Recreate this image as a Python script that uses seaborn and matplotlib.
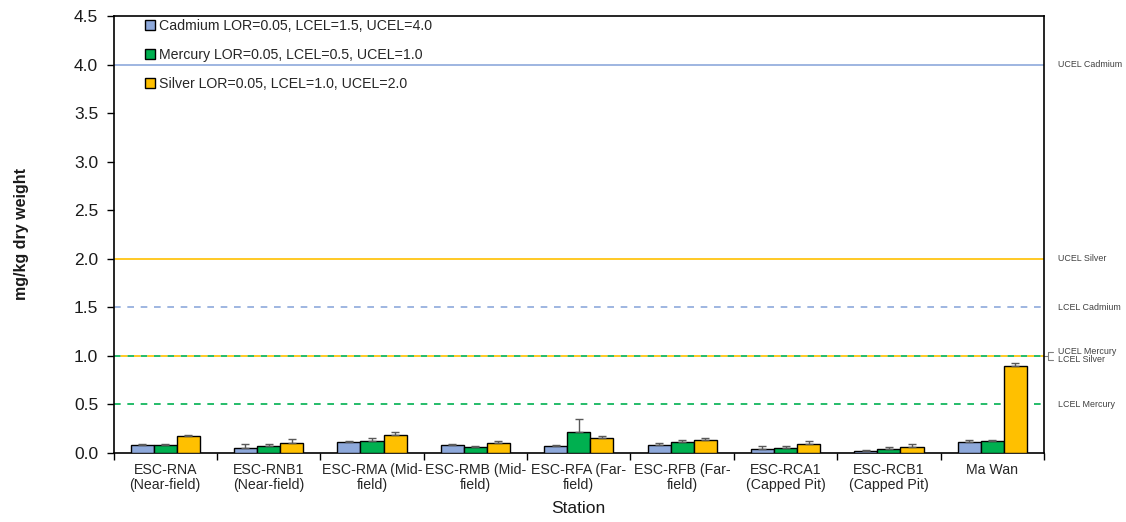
import numpy as np
import pandas as pd
import matplotlib
matplotlib.use("Agg")
import matplotlib.pyplot as plt
import seaborn as sns

stations = ["ESC-RNA\n(Near-field)", "ESC-RNB1\n(Near-field)", "ESC-RMA (Mid-\nfield)",
            "ESC-RMB (Mid-\nfield)", "ESC-RFA (Far-\nfield)", "ESC-RFB (Far-\nfield)",
            "ESC-RCA1\n(Capped Pit)", "ESC-RCB1\n(Capped Pit)", "Ma Wan"]
metals = ["Cadmium", "Mercury", "Silver"]
legend_labels = ["Cadmium LOR=0.05, LCEL=1.5, UCEL=4.0",
                 "Mercury LOR=0.05, LCEL=0.5, UCEL=1.0",
                 "Silver LOR=0.05, LCEL=1.0, UCEL=2.0"]

cadmium = [0.082, 0.050, 0.117, 0.080, 0.068, 0.078, 0.043, 0.024, 0.113]
mercury = [0.080, 0.075, 0.125, 0.065, 0.220, 0.109, 0.052, 0.040, 0.120]
silver = [0.170, 0.106, 0.190, 0.106, 0.155, 0.137, 0.093, 0.060, 0.895]
cadmium_err = [0.010, 0.040, 0.005, 0.010, 0.012, 0.020, 0.027, 0.010, 0.017]
mercury_err = [0.008, 0.020, 0.025, 0.005, 0.130, 0.020, 0.017, 0.020, 0.010]
silver_err = [0.020, 0.035, 0.030, 0.015, 0.015, 0.020, 0.027, 0.030, 0.030]

# Reference levels
ref_names = ["UCEL Cadmium", "UCEL Silver", "LCEL Cadmium", "UCEL Mercury", "LCEL Silver", "LCEL Mercury"]
ref_values = [4.0, 2.0, 1.5, 1.0, 1.0, 0.5]

colors = {"Cadmium": "#8EA9DB", "Mercury": "#00B050", "Silver": "#FFC000"}

df = pd.DataFrame({
    "Station": np.repeat(stations, 3),
    "Metal": metals * len(stations),
    "Value": np.ravel(np.column_stack([cadmium, mercury, silver])),
    "Err": np.ravel(np.column_stack([cadmium_err, mercury_err, silver_err])),
})

sns.set_style("ticks")
plt.rcParams["font.family"] = ["Liberation Sans", "DejaVu Sans"]

fig, ax = plt.subplots(figsize=(11.26, 5.22), dpi=100)
fig.subplots_adjust(left=113.5 / 1126, right=1044 / 1126, top=1 - 16 / 522, bottom=1 - 453 / 522)

sns.barplot(data=df, x="Station", y="Value", hue="Metal", order=stations, hue_order=metals,
            palette=colors, width=0.67, gap=0, edgecolor="black", linewidth=1.0,
            errorbar=None, ax=ax, saturation=1, zorder=3)

# error bars (upper only)
bars = [p for p in ax.patches if p.get_width() > 0]
bars = sorted(bars, key=lambda p: p.get_x())
xs = [p.get_x() + p.get_width() / 2 for p in bars]
hs = [p.get_height() for p in bars]
errs = list(df["Err"])
ax.errorbar(xs, hs, yerr=[np.zeros(len(errs)), errs], fmt="none", ecolor="#595959",
            elinewidth=1, capsize=3, capthick=1, zorder=4)

# reference lines
ax.axhline(4.0, color="#8EA9DB", lw=1.2, zorder=1)
ax.axhline(2.0, color="#FFC000", lw=1.2, zorder=1)
ax.axhline(1.5, color="#8EA9DB", lw=1.2, ls=(0, (4, 4)), zorder=1)
ax.axhline(1.0, color="#00B050", lw=1.2, ls=(0, (4, 4)), zorder=1)
ax.axhline(1.0, color="#FFC000", lw=1.2, ls=(4, (4, 4)), zorder=1)
ax.axhline(0.5, color="#00B050", lw=1.2, ls=(0, (4, 4)), zorder=1)

trans = ax.get_yaxis_transform()
tx = 1.015
for name, val in zip(ref_names, ref_values):
    if name in ("UCEL Mercury", "LCEL Silver"):
        continue
    ax.text(tx, val, name, transform=trans, fontsize=6.4, va="center", ha="left", color="#404040")
# bracket for overlapping labels
ax.text(tx, 1.045, "UCEL Mercury", transform=trans, fontsize=6.4, va="center", ha="left", color="#404040")
ax.text(tx, 0.96, "LCEL Silver", transform=trans, fontsize=6.4, va="center", ha="left", color="#404040")
bx0, bx1, bx2 = 1.0, 1.004, 1.010
ax.plot([bx0, bx1], [1.0, 1.0], transform=trans, color="#808080", lw=0.8, clip_on=False)
ax.plot([bx1, bx1], [0.96, 1.045], transform=trans, color="#808080", lw=0.8, clip_on=False)
ax.plot([bx1, bx2], [1.045, 1.045], transform=trans, color="#808080", lw=0.8, clip_on=False)
ax.plot([bx1, bx2], [0.96, 0.96], transform=trans, color="#808080", lw=0.8, clip_on=False)

ax.set_ylim(0, 4.5)
ax.set_xlim(-0.5, len(stations) - 0.5)
ax.set_yticks(np.arange(0, 4.51, 0.5))
ax.set_yticklabels([f"{v:.1f}" for v in np.arange(0, 4.51, 0.5)], fontsize=12.5)

ax.set_xticks(np.arange(-0.5, len(stations), 1.0))
ax.set_xticklabels([])
ax.set_xticks(np.arange(len(stations)), minor=True)
ax.set_xticklabels(stations, minor=True, fontsize=10.2, color="#262626", linespacing=1.15)
ax.tick_params(axis="x", which="minor", length=0, pad=7)
ax.tick_params(axis="x", which="major", length=5, width=1, direction="out", color="black")
ax.tick_params(axis="y", length=5, width=1, direction="out", color="black", labelcolor="#1a1a1a", pad=6)

for s in ax.spines.values():
    s.set_visible(True)
    s.set_color("black")
    s.set_linewidth(1.2)

ax.set_xlabel("Station", fontsize=12.5, color="#1a1a1a", labelpad=6)
ax.set_ylabel("mg/kg dry weight", fontsize=11.5, fontweight="bold", color="#1a1a1a", labelpad=32)

handles, _ = ax.get_legend_handles_labels()
ax.legend(handles, legend_labels, loc="upper left", bbox_to_anchor=(0.025, 1.012), frameon=False,
          fontsize=10.2, labelspacing=1.05, handlelength=0.7, handleheight=0.7, handletextpad=0.25,
          borderaxespad=0.2)

fig.savefig("out.png", dpi=100)
